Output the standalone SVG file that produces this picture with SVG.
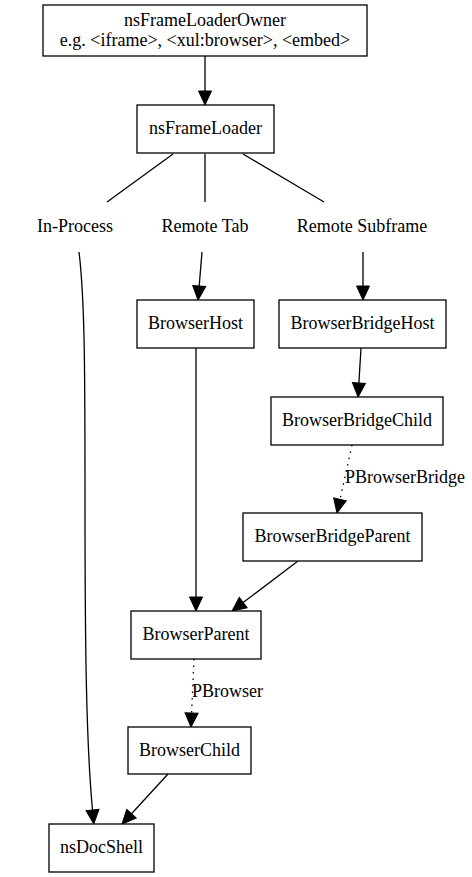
<svg xmlns="http://www.w3.org/2000/svg" width="472" height="877" viewBox="0 0 472 877">
<defs>
<style>
.box{fill:#fff;stroke:#000;stroke-width:1.3}
.t{font-family:"Liberation Serif","Times New Roman",serif;font-size:18px;fill:#000;text-anchor:middle}
.ts{font-family:"Liberation Serif","Times New Roman",serif;font-size:18px;fill:#000}
.e{fill:none;stroke:#000;stroke-width:1.3}
.d{stroke-dasharray:1.5,5}
</style>
<marker id="ah" markerUnits="userSpaceOnUse" markerWidth="16" markerHeight="14" refX="0" refY="0" orient="auto" overflow="visible">
<path d="M0,-6.5 L14,0 L0,6.5 Z" fill="#000" stroke="#000" stroke-width="1"/>
</marker>
</defs>
<rect width="472" height="877" fill="#fff"/>
<g id="connectors">
<path class="e" d="M205,56 L205,91" marker-end="url(#ah)"/>
<path class="e" d="M173,154 L107,202"/>
<path class="e" d="M205,154 L205,202"/>
<path class="e" d="M243,154 L324,202"/>
<path class="e" d="M202,252 L199.2,286" marker-end="url(#ah)"/>
<path class="e" d="M363,252 L363,286" marker-end="url(#ah)"/>
<path class="e" d="M361,348 L358.9,383" marker-end="url(#ah)"/>
<path class="e d" d="M352,445 L340,499.3" marker-end="url(#ah)"/>
<path class="e" d="M298,561 L243.2,602.5" marker-end="url(#ah)"/>
<path class="e" d="M196,348 L196,597" marker-end="url(#ah)"/>
<path class="e d" d="M194,659 L191.6,713" marker-end="url(#ah)"/>
<path class="e" d="M168,774 L131.5,813.7" marker-end="url(#ah)"/>
<path class="e" d="M79,252 C85,300 85,380 85,500 C85,640 86,740 92.5,810" marker-end="url(#ah)"/>
<text class="ts" x="345" y="483">PBrowserBridge</text>
<text class="ts" x="192" y="697">PBrowser</text>
</g>
<g id="nsFrameLoaderOwner">
<rect class="box" x="43" y="5" width="324" height="51"/>
<text class="t" x="205" y="26">nsFrameLoaderOwner</text>
<text class="t" x="205" y="46">e.g. &lt;iframe&gt;, &lt;xul:browser&gt;, &lt;embed&gt;</text>
</g>
<g id="nsFrameLoader">
<rect class="box" x="137" y="105" width="137" height="48"/>
<text class="t" x="205.5" y="134">nsFrameLoader</text>
</g>
<g id="InProcess"><text class="t" x="75" y="232">In-Process</text></g>
<g id="RemoteTab"><text class="t" x="205" y="232">Remote Tab</text></g>
<g id="RemoteSubframe"><text class="t" x="362" y="232">Remote Subframe</text></g>
<g id="BrowserHost">
<rect class="box" x="137" y="300" width="117" height="48"/>
<text class="t" x="195.5" y="329">BrowserHost</text>
</g>
<g id="BrowserBridgeHost">
<rect class="box" x="279" y="300" width="167" height="48"/>
<text class="t" x="362.5" y="329">BrowserBridgeHost</text>
</g>
<g id="BrowserBridgeChild">
<rect class="box" x="271" y="397" width="172" height="48"/>
<text class="t" x="357" y="426">BrowserBridgeChild</text>
</g>
<g id="BrowserBridgeParent">
<rect class="box" x="243" y="513" width="179" height="48"/>
<text class="t" x="332.5" y="542">BrowserBridgeParent</text>
</g>
<g id="BrowserParent">
<rect class="box" x="131" y="611" width="130" height="48"/>
<text class="t" x="196" y="640">BrowserParent</text>
</g>
<g id="BrowserChild">
<rect class="box" x="128" y="727" width="123" height="47"/>
<text class="t" x="189.5" y="756">BrowserChild</text>
</g>
<g id="nsDocShell">
<rect class="box" x="49" y="824" width="105" height="48"/>
<text class="t" x="101.5" y="853">nsDocShell</text>
</g>
</svg>
